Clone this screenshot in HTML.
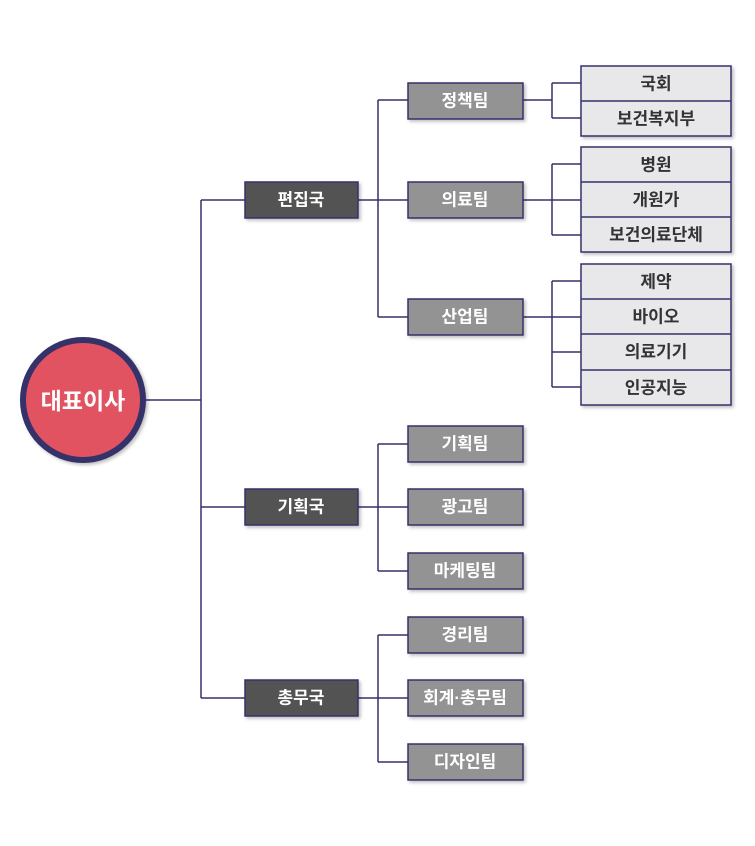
<!DOCTYPE html>
<html><head><meta charset="utf-8"><style>
html,body{margin:0;padding:0;background:#fff;}
svg text{font-family:"Liberation Sans","Noto Sans CJK KR",sans-serif;font-weight:bold;text-anchor:middle;dominant-baseline:central;}
</style></head><body>
<svg width="755" height="841" viewBox="0 0 755 841" xmlns="http://www.w3.org/2000/svg">
<defs><filter id="s" x="-10%" y="-20%" width="130%" height="150%"><feDropShadow dx="2" dy="2" stdDeviation="1.5" flood-color="#000" flood-opacity="0.25"/></filter></defs>
<g stroke="#35306a" stroke-width="1.5" fill="none">
<path d="M145 400H201M201 200V698M201 200H245M201 507H245M201 698H245"/>
<path d="M358 200H408M378 100V317M378 100H408M378 317H408"/>
<path d="M358 507H408M378 444V571M378 444H408M378 571H408"/>
<path d="M358 698H408M378 635V762M378 635H408M378 762H408"/>
<path d="M523 100H552M552 83V118M552 83H581M552 118H581"/>
<path d="M523 200H581M552 164V235M552 164H581M552 235H581"/>
<path d="M523 317H581M552 281V387M552 281H581M552 352H581M552 387H581"/>
</g>
<circle cx="83" cy="400" r="60" fill="#e25262" stroke="#35306a" stroke-width="6" filter="url(#s)"/>
<text x="83" y="401" fill="#fff" font-size="23">대표이사</text>
<g stroke="#35306a" stroke-width="1.5" filter="url(#s)">
<rect x="245" y="182" width="113" height="36" fill="#535353"/>
<rect x="245" y="489" width="113" height="36" fill="#535353"/>
<rect x="245" y="680" width="113" height="36" fill="#535353"/>
<g fill="#939393">
<rect x="408" y="83" width="115" height="36"/>
<rect x="408" y="182" width="115" height="36"/>
<rect x="408" y="299" width="115" height="36"/>
<rect x="408" y="426" width="115" height="36"/>
<rect x="408" y="489" width="115" height="36"/>
<rect x="408" y="553" width="115" height="36"/>
<rect x="408" y="617" width="115" height="36"/>
<rect x="408" y="680" width="115" height="36"/>
<rect x="408" y="744" width="115" height="36"/>
</g>
<g fill="#e8e8ea">
<rect x="581" y="66" width="150" height="70"/>
<rect x="581" y="147" width="150" height="105"/>
<rect x="581" y="264" width="150" height="141"/>
</g>
</g>
<g stroke="#35306a" stroke-width="1.5">
<path d="M581 101H731M581 182H731M581 217H731M581 299H731M581 334H731M581 370H731"/>
</g>
<g fill="#fff" font-size="17">
<text x="301" y="200">편집국</text>
<text x="301" y="507">기획국</text>
<text x="301" y="698">총무국</text>
<text x="465" y="101">정책팀</text>
<text x="465" y="200">의료팀</text>
<text x="465" y="317">산업팀</text>
<text x="465" y="444">기획팀</text>
<text x="465" y="507">광고팀</text>
<text x="465" y="571">마케팅팀</text>
<text x="465" y="635">경리팀</text>
<text x="465" y="698">회계·총무팀</text>
<text x="465" y="762">디자인팀</text>
</g>
<g fill="#333" font-size="17">
<text x="656" y="84">국회</text>
<text x="656" y="119">보건복지부</text>
<text x="656" y="165">병원</text>
<text x="656" y="200">개원가</text>
<text x="656" y="235">보건의료단체</text>
<text x="656" y="282">제약</text>
<text x="656" y="317">바이오</text>
<text x="656" y="352">의료기기</text>
<text x="656" y="388">인공지능</text>
</g>
</svg>
</body></html>
